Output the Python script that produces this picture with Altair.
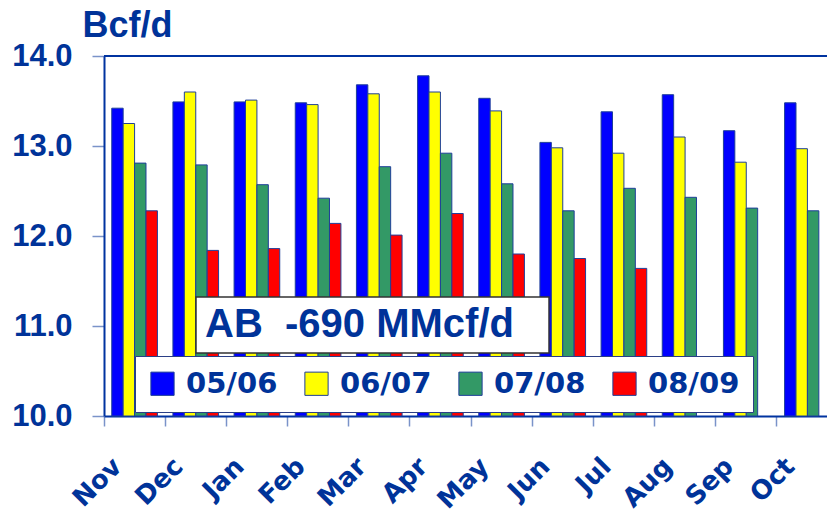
import altair as alt
import pandas as pd

months = ["Nov", "Dec", "Jan", "Feb", "Mar", "Apr", "May", "Jun", "Jul", "Aug", "Sep", "Oct"]
seasons = ["05/06", "06/07", "07/08", "08/09"]
colors = ["#0000FF", "#FFFF00", "#339966", "#FF0000"]

s_0506 = [13.42, 13.49, 13.49, 13.48, 13.68, 13.78, 13.53, 13.04, 13.38, 13.57, 13.17, 13.48]
s_0607 = [13.25, 13.60, 13.51, 13.46, 13.58, 13.60, 13.39, 12.98, 12.92, 13.10, 12.82, 12.97]
s_0708 = [12.81, 12.79, 12.57, 12.42, 12.77, 12.92, 12.58, 12.28, 12.53, 12.43, 12.31, 12.28]
s_0809 = [12.28, 11.84, 11.86, 12.14, 12.01, 12.25, 11.80, 11.75, 11.64]

y_ticks = [10, 11, 12, 13, 14]
annotation = "AB\u00a0 -690 MMcf/d"

rows = []
for season, vals in zip(seasons, [s_0506, s_0607, s_0708, s_0809]):
    for m, v in zip(months, vals):
        rows.append({"month": m, "season": season, "value": v})
df = pd.DataFrame(rows)

TXT = "#003399"
TICK = "#7a93c9"

bars = alt.Chart(df).mark_bar(stroke="#1f3f99", strokeWidth=1).encode(
    x=alt.X("month:N", sort=months,
            scale=alt.Scale(range=[0, 734], paddingInner=0, paddingOuter=0),
            axis=alt.Axis(title=None, bandPosition=0, labelAngle=315,
                          labelAlign="right", labelBaseline="middle",
                          labelOffset=-17, labelPadding=36,
                          labelFont="DejaVu Sans", labelFontSize=26, labelFontWeight="bold",
                          labelColor=TXT, tickColor=TICK, tickSize=10, tickWidth=1.5,
                          domainColor="#0033a0", domainWidth=2)),
    xOffset=alt.XOffset("season:N", sort=seasons,
                        scale=alt.Scale(paddingInner=0, paddingOuter=0.68)),
    y=alt.Y("value:Q", scale=alt.Scale(domain=[10, 14], nice=False, zero=False),
            axis=alt.Axis(values=y_ticks, format=".1f", grid=False,
                          title="Bcf/d", titleAngle=0, titleX=-22, titleY=-20,
                          titleAlign="left", titleBaseline="alphabetic",
                          titleFont="Liberation Sans", titleFontSize=36, titleFontWeight="bold",
                          titleColor=TXT,
                          labelFont="Liberation Sans", labelFontSize=31, labelFontWeight="bold",
                          labelColor=TXT, labelPadding=20, labelBaseline="middle",
                          tickColor=TICK, tickSize=12, tickWidth=1.5,
                          domainColor="#0033a0", domainWidth=2)),
    y2=alt.datum(10),
    color=alt.Color("season:N", sort=seasons,
                    scale=alt.Scale(domain=seasons, range=colors),
                    legend=alt.Legend(title=None, orient="none", legendX=31, legendY=300,
                                      direction="horizontal", symbolType="square",
                                      symbolSize=540, symbolStrokeColor="#1f3f99",
                                      symbolStrokeWidth=1, symbolOpacity=1,
                                      labelFont="DejaVu Sans", labelFontSize=29,
                                      labelFontWeight="bold", labelColor=TXT,
                                      labelOffset=9, columnPadding=24, padding=13,
                                      fillColor="white", strokeColor="#2b3f86",
                                      labelLimit=200)),
)

one = pd.DataFrame({"t": [annotation]})

top_line = alt.Chart(one).mark_rule(color="#0033a0", strokeWidth=2).encode(
    x=alt.value(0), x2=alt.value(734), y=alt.value(0)
)

box = alt.Chart(one).mark_rect(fill="white", stroke="#333333", strokeWidth=1.5).encode(
    x=alt.value(92), x2=alt.value(445), y=alt.value(241), y2=alt.value(297)
)

label = alt.Chart(one).mark_text(
    font="Liberation Sans", fontSize=40, fontWeight="bold", color=TXT,
    align="left", baseline="alphabetic"
).encode(x=alt.value(101), y=alt.value(281), text="t:N")

chart = alt.layer(bars, top_line, box, label).properties(
    width=723, height=360,
    autosize="none",
    padding={"left": 96, "top": 48, "right": 0, "bottom": 100},
).configure_view(stroke=None)

chart.save("out.html", embed_options={"renderer": "svg", "actions": False})
